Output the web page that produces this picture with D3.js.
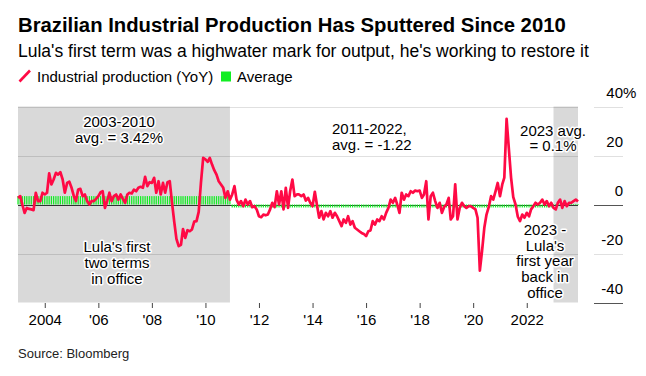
<!DOCTYPE html>
<html>
<head>
<meta charset="utf-8">
<script src="https://cdn.jsdelivr.net/npm/d3@7"></script>
<style>
  body { margin: 0; background: #fff; }
  svg text { font-family: "Liberation Sans", Arial, Helvetica, sans-serif; fill: #000; }
  .halo { paint-order: stroke; stroke: #fff; stroke-width: 3px; stroke-linejoin: round; }
</style>
</head>
<body>
<div id="mainbox"></div>
<script>
// monthly YoY % change, Jan 2003 -> Dec 2023
const startMonth = '2003-01';
const production = [
  2.7, 3.4, 0, -3.4, -1.4, -1.8, -2, -2.3, 4.8, 1.4, 1.4, 4.8,
  4.1, 4.8, 12.7, 8.2, 10.2, 12.9, 12.2, 13.2, 10.2, 4.8, 8.8, 9.3,
  6.8, 3.4, 1.4, 6.1, 6.4, 3.4, 4.1, 1.4, 0, 1.4, 1.4, 2.3,
  3.4, 5, 5.4, -1.4, 1.4, 4.8, 1.4, 3.4, 4.1, 2, 4.1, 2.3,
  0.7, 4.1, 4.8, 4.5, 6.1, 5.4, 6.8, 7.2, 6.8, 11.3, 7.5, 9.1,
  8.8, 10.9, 4.8, 9.5, 4.1, 8.8, 4.8, 9.1, 9.5, 1, -7, -14,
  -17, -16.5, -10, -13.6, -10.5, -10.9, -10.2, -7, -6.8, -3, 9, 19,
  18.4, 17.4, 19, 16.3, 14, 12.2, 9.5, 8.2, 6.8, 2.7, 5.4, 2,
  4.1, 7.5, 2, 0, 1.4, -0.7, 2, 0, 1.4, -1.1, -0.7, -2,
  -4.8, -5.2, -4.1, -4.4, -4.1, -2, 0.7, -1.1, 5.4, 0, 5.4, -2,
  6.8, -1.4, 5.4, 10.2, 3.4, 4.1, 4.1, 3.4, 4.1, 1.6, 2.7, 0.7,
  -0.7, 5.2, 0, -5.4, -2.7, -6.1, -3.4, -4.8, -2.7, -5.4, -3.4, -4.8,
  -6.8, -8.8, -6.1, -7.5, -4.8, -8.2, -6.8, -9.5, -10.2, -10.9, -11.6, -12,
  -12.9, -10.9, -10.6, -6.8, -8.2, -6.1, -6.8, -4.8, -6.1, -3.4, -1.4, 2,
  0.7, 2.7, 0, -3.4, 4.8, 2, 4.1, 3.4, 5.4, 4.8, 5.7, 5.4,
  5.7, 2.7, 4.1, 9.5, -6.1, 3.4, 4.8, 1.4, -1.4, 0.7, -3.4, -1,
  0, 2.7, -6.1, -4.8, 8.2, -6.1, -1.4, 0.7, -0.7, -1.4, -0.7, -0.7,
  -1.4, -2, -5.4, -27, -19, -9.5, -4.1, -1, 3.4, 2, 5.4, 8.8,
  3.4, 8.2, 11, 35, 23, 11, 3, 0, -5, -6.8, -4.1, -5.4,
  -3.4, -4.8, -2, -0.7, 0.7, 0, 0.7, 2, 0, 1.4, -0.7, 0.7,
  -1.4, -2, 0.7, 2, -1.4, 1.4, -0.7, 0.7, 0.7, 1.4, 2, 1.2
];

// average periods
const avgStarts = ['2003-01', '2011-01', '2023-01'];
const avgEnds   = ['2010-12', '2022-12', '2023-12'];
const avgValues = [3.42, -1.22, 0.1];

// shaded terms
const shadeStarts = ['2003-01', '2023-01'];
const shadeEnds   = ['2010-12', '2023-12'];

const yTicks = [40, 20, 0, -20, -40];
const xTickYears = [2004, 2006, 2008, 2010, 2012, 2014, 2016, 2018, 2020, 2022];
const xTickLabels = ['2004', "'06", "'08", "'10", "'12", "'14", "'16", "'18", "'20", '2022'];

const parseMonth = d3.timeParse('%Y-%m');
const start = parseMonth(startMonth);
const data = production.map((v, i) => ({date: d3.timeMonth.offset(start, i), value: v}));

const avgData = [];
avgStarts.forEach((s, k) => {
  d3.timeMonth.range(parseMonth(s), d3.timeMonth.offset(parseMonth(avgEnds[k]), 1))
    .forEach(d => avgData.push({date: d, value: avgValues[k]}));
});

const W = 646, H = 376;
const plotL = 18, plotR = 578, plotT = 106.5, plotB = 302.5;
const axisL = 594, axisR = 623;

const svg = d3.select('#mainbox')
  .append('svg')
  .attr('width', W)
  .attr('height', H);

const x = d3.scaleTime()
  .domain([data[0].date, data[data.length - 1].date])
  .range([plotL, plotR]);
const y = d3.scaleLinear().domain([-40, 40]).range([plotB, plotT]);

// titles
svg.append('text').attr('x', 18).attr('y', 31.5)
  .style('font-size', '20.3px').style('font-weight', 'bold')
  .text('Brazilian Industrial Production Has Sputtered Since 2010');
svg.append('text').attr('x', 18).attr('y', 56.5)
  .style('font-size', '17.5px')
  .text("Lula's first term was a highwater mark for output, he's working to restore it");

// legend
const legend = svg.append('g');
legend.append('line')
  .attr('x1', 19.5).attr('y1', 81.5).attr('x2', 30).attr('y2', 70.5)
  .attr('stroke', '#ff0a45').attr('stroke-width', 2.6);
legend.append('text').attr('x', 37).attr('y', 81.5)
  .style('font-size', '15px').text('Industrial production (YoY)');
legend.append('rect')
  .attr('x', 221).attr('y', 71.5).attr('width', 10).attr('height', 10)
  .attr('fill', '#11ee22');
legend.append('text').attr('x', 237).attr('y', 81.5)
  .style('font-size', '15px').text('Average');

// shaded periods
svg.append('g')
  .selectAll('rect')
  .data(shadeStarts)
  .join('rect')
  .attr('x', d => x(parseMonth(d)))
  .attr('width', (d, i) => x(parseMonth(shadeEnds[i])) - x(parseMonth(d)))
  .attr('y', plotT)
  .attr('height', plotB - plotT)
  .attr('fill', '#d9d9d9');

// grid lines
const grid = svg.append('g');
grid.selectAll('.grid-plot')
  .data(yTicks.filter(d => d !== -40))
  .join('line')
  .attr('class', 'grid-plot')
  .attr('x1', plotL).attr('x2', plotR)
  .attr('y1', d => Math.round(y(d)) + 0.5).attr('y2', d => Math.round(y(d)) + 0.5)
  .attr('stroke', d => d === 0 ? '#333' : 'rgba(0,0,0,0.12)')
  .attr('stroke-width', 1);
grid.selectAll('.grid-axis')
  .data(yTicks)
  .join('line')
  .attr('class', 'grid-axis')
  .attr('x1', axisL).attr('x2', axisR)
  .attr('y1', d => Math.round(y(d)) + 0.5).attr('y2', d => Math.round(y(d)) + 0.5)
  .attr('stroke', d => (d === 0 || d === -40) ? '#555' : 'rgba(0,0,0,0.12)')
  .attr('stroke-width', 1);

// y labels (right)
const yLab = svg.append('g').style('font-size', '15px').attr('text-anchor', 'end');
yLab.selectAll('text')
  .data(yTicks)
  .join('text')
  .attr('x', axisR)
  .attr('y', d => y(d) - 9)
  .text(d => d);
yLab.append('text')
  .attr('x', axisR).attr('y', y(40) - 9)
  .attr('text-anchor', 'start')
  .text('%');

// x axis
const axisX = d3.axisBottom(x)
  .tickValues(xTickYears.map(yr => new Date(yr, 0, 1)))
  .tickSize(5)
  .tickPadding(6)
  .tickFormat((d, i) => xTickLabels[i]);
const axisXNode = svg.append('g')
  .attr('class', 'axis axis-x')
  .attr('transform', `translate(0,${plotB + 0.5})`)
  .call(axisX);
axisXNode.select('.domain').remove();
axisXNode.selectAll('.tick line').attr('stroke', '#444');
axisXNode.selectAll('.tick text')
  .style('font-size', '15px')
  .style('font-family', '"Liberation Sans", Arial, sans-serif')
  .attr('fill', '#000');

// average bars
const barW = 1.2;
svg.append('g')
  .selectAll('rect')
  .data(avgData)
  .join('rect')
  .attr('x', d => x(d.date) - barW / 2)
  .attr('width', barW)
  .attr('y', d => Math.min(y(d.value), y(0)))
  .attr('height', d => Math.max(Math.abs(y(d.value) - y(0)), 0.8))
  .attr('fill', '#11ee22');

// production line
const line = d3.line()
  .x(d => x(d.date))
  .y(d => y(d.value));
svg.append('path')
  .datum(data)
  .attr('d', line)
  .attr('fill', 'none')
  .attr('stroke', '#ff0a45')
  .attr('stroke-width', 2.7)
  .attr('stroke-linejoin', 'round');

// annotations
function note(lines, cx, y0, lh, anchor, halo) {
  const t = svg.append('text')
    .attr('class', halo ? 'halo' : null)
    .attr('text-anchor', anchor)
    .style('font-size', '15px');
  lines.forEach((s, i) => t.append('tspan').attr('x', cx).attr('y', y0 + i * lh).text(s));
}
note(['2003-2010', 'avg. = 3.42%'], 119, 126.5, 16, 'middle', true);
note(["Lula's first", 'two terms', 'in office'], 117, 251.5, 16.3, 'middle', true);
note(['2011-2022,', 'avg. = -1.22'], 332, 133.5, 16, 'start', false);
note(['2023 avg.', '= 0.1%'], 553, 135.5, 15.6, 'middle', true);
note(['2023 -', "Lula's", 'first year', 'back in', 'office'], 545, 235, 15.7, 'middle', true);

// source
svg.append('text').attr('x', 18).attr('y', 358)
  .style('font-size', '13px').style('fill', '#222')
  .text('Source: Bloomberg');
</script>
</body>
</html>
